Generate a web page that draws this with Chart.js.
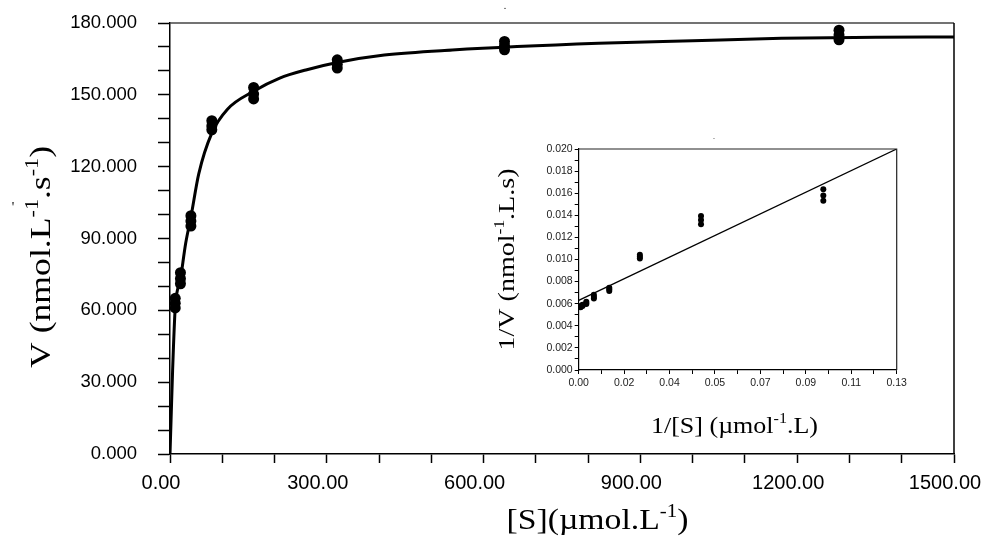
<!DOCTYPE html>
<html>
<head>
<meta charset="utf-8">
<script src="https://cdn.jsdelivr.net/npm/chart.js@4.4.1/dist/chart.umd.min.js"></script>
<style>
  html, body { margin: 0; padding: 0; background: #fff; }
  #wrap { position: relative; width: 983px; height: 539px; }
  #main { position: absolute; left: 0; top: 0; }
  #inset { position: absolute; left: 470px; top: 130px; }
</style>
</head>
<body>
<div id="wrap">
  <canvas id="main" width="983" height="539"></canvas>
  <canvas id="inset" width="450" height="320"></canvas>
</div>
<script>
// ---------- Main plot data (Michaelis-Menten) ----------
const sValues = [10, 20, 40, 80, 160, 320, 640, 1280];
const vRep1 = [65.0, 75.7, 99.5, 139.2, 153.1, 164.6, 172.3, 177.0];
const vRep2 = [63.0, 73.2, 97.3, 137.0, 150.3, 162.8, 170.5, 175.0];
const vRep3 = [61.0, 71.1, 95.2, 135.4, 148.3, 161.2, 168.8, 173.0];
// fitted curve
const fitS = [0, 2, 5, 10, 20, 30, 40, 55, 80, 110, 160, 210, 260, 320, 410, 540, 820, 1000, 1170, 1350, 1500];
const fitV = [0, 14, 35, 61, 73, 88, 99, 117, 134, 144, 151.5, 157, 160.4, 163.5, 166.6, 168.7, 171.5, 172.6, 173.6, 174.0, 174.2];
const mainXTickLabels = ['0.00', '300.00', '600.00', '900.00', '1200.00', '1500.00'];
const mainYTickLabels = ['0.000', '30.000', '60.000', '90.000', '120.000', '150.000', '180.000'];

// ---------- Inset data (Lineweaver-Burk) ----------
const invS = [0.00078, 0.00156, 0.0031, 0.0062, 0.0125, 0.025, 0.05, 0.1];
const invV1 = [0.00579, 0.00591, 0.00618, 0.00680, 0.00744, 0.01044, 0.01394, 0.01635];
const invV2 = [0.00573, 0.00585, 0.00607, 0.00663, 0.00730, 0.01026, 0.01357, 0.01580];
const invV3 = [0.00567, 0.00579, 0.00597, 0.00646, 0.00715, 0.01008, 0.01318, 0.01532];
const lineX = [0, 0.13];
const lineY = [0.0063, 0.0200];
const insetXTickLabels = ['0.00', '0.02', '0.04', '0.05', '0.07', '0.09', '0.11', '0.13'];
const insetYTickLabels = ['0.000', '0.002', '0.004', '0.006', '0.008', '0.010', '0.012', '0.014', '0.016', '0.018', '0.020'];

const SERIF = '"Liberation Serif", "Times New Roman", serif';
const SANS = '"Liberation Sans", Arial, sans-serif';

function pts(xs, ys) { return xs.map((x, i) => ({ x: x, y: ys[i] })); }

// draw text with superscripts; parts: [{t, sup}]
function drawRich(ctx, parts, opt) {
  const size = opt.size;
  const supSize = size * 0.62;
  ctx.save();
  let widths = parts.map(p => {
    ctx.font = (p.sup ? supSize : size) + 'px ' + SERIF;
    return ctx.measureText(p.t).width;
  });
  const W = widths.reduce((a, b) => a + b, 0);
  const sx = opt.target ? opt.target / W : 1;
  ctx.translate(opt.x, opt.y);
  if (opt.rotate) ctx.rotate(opt.rotate);
  ctx.scale(sx, 1);
  ctx.fillStyle = '#000';
  ctx.textBaseline = 'alphabetic';
  ctx.textAlign = 'left';
  let cx = -W / 2;
  parts.forEach((p, i) => {
    ctx.font = (p.sup ? supSize : size) + 'px ' + SERIF;
    ctx.fillText(p.t, cx, p.sup ? -size * 0.4 : 0);
    cx += widths[i];
  });
  ctx.restore();
}

const mainDecor = {
  id: 'mainDecor',
  afterDraw(chart) {
    const ctx = chart.ctx, a = chart.chartArea;
    ctx.save();
    ctx.lineWidth = 1.5;
    ctx.strokeStyle = '#444';
    ctx.beginPath(); ctx.moveTo(a.left, a.top); ctx.lineTo(a.right, a.top); ctx.stroke();
    ctx.strokeStyle = '#000';
    ctx.beginPath(); ctx.moveTo(a.right, a.top); ctx.lineTo(a.right, a.bottom); ctx.stroke();
    ctx.restore();
    drawRich(ctx, [{t: '[S](\u00b5mol.L'}, {t: '-1', sup: true}, {t: ')'}],
      {x: 597.5, y: 529, size: 30, target: 182});
    drawRich(ctx, [{t: 'V (nmol.L'}, {t: '-1', sup: true}, {t: '.s'}, {t: '-1', sup: true}, {t: ')'}],
      {x: 50, y: 257, size: 30, rotate: -Math.PI / 2, target: 222});
    ctx.save();
    ctx.fillStyle = '#000';
    ctx.font = '14px ' + SERIF;
    ctx.textAlign = 'center';
    ctx.fillText("'", 13, 212);
    ctx.font = '10px ' + SERIF;
    ctx.fillText('.', 505, 9);
    ctx.restore();
  }
};

new Chart(document.getElementById('main'), {
  type: 'scatter',
  data: {
    datasets: [
      { type: 'line', data: pts(fitS, fitV), borderColor: '#000', borderWidth: 3, pointRadius: 0,
        cubicInterpolationMode: 'monotone', fill: false, order: 2 },
      { data: pts(sValues, vRep1), backgroundColor: '#000', borderWidth: 0, pointRadius: 5.5, order: 1 },
      { data: pts(sValues, vRep2), backgroundColor: '#000', borderWidth: 0, pointRadius: 5.5, order: 1 },
      { data: pts(sValues, vRep3), backgroundColor: '#000', borderWidth: 0, pointRadius: 5.5, order: 1 }
    ]
  },
  options: {
    responsive: false, animation: false, devicePixelRatio: 1,
    layout: { padding: { top: 23, right: 29, left: 0, bottom: 0 } },
    plugins: { legend: { display: false }, tooltip: { enabled: false } },
    scales: {
      x: {
        type: 'linear', min: 0, max: 1500,
        afterBuildTicks: s => { s.ticks = Array.from({ length: 16 }, (_, i) => ({ value: i * 100 })); },
        afterFit: s => { s.height = 85; s.paddingLeft = 0; s.paddingRight = 0; },
        ticks: {
          autoSkip: false, maxRotation: 0, padding: 8, color: '#000', labelOffset: -9,
          font: { family: SANS, size: 20 },
          callback: (v, i) => (i % 3 === 0 ? mainXTickLabels[i / 3] : '')
        },
        grid: { drawOnChartArea: false, drawTicks: true, tickLength: 9, tickWidth: 1.5, color: '#000', tickColor: '#000' },
        border: { color: '#000', width: 1.5 }
      },
      y: {
        type: 'linear', min: 0, max: 180,
        afterBuildTicks: s => { s.ticks = Array.from({ length: 19 }, (_, i) => ({ value: i * 10 })); },
        afterFit: s => { s.width = 170; s.paddingTop = 0; s.paddingBottom = 0; },
        ticks: {
          autoSkip: false, padding: 21, color: '#000',
          font: { family: SANS, size: 18.5 },
          callback: (v, i) => (i % 3 === 0 ? mainYTickLabels[i / 3] : '')
        },
        grid: { drawOnChartArea: false, drawTicks: true, tickLength: 12, tickWidth: 1.5, color: '#000', tickColor: '#000' },
        border: { color: '#000', width: 1.5 }
      }
    }
  },
  plugins: [mainDecor]
});

const insetDecor = {
  id: 'insetDecor',
  afterDraw(chart) {
    const ctx = chart.ctx, a = chart.chartArea;
    ctx.save();
    ctx.lineWidth = 1.2;
    ctx.strokeStyle = '#222';
    ctx.beginPath(); ctx.moveTo(a.left, a.top); ctx.lineTo(a.right, a.top); ctx.lineTo(a.right, a.bottom); ctx.stroke();
    ctx.restore();
    drawRich(ctx, [{t: '1/[S] (\u00b5mol'}, {t: '-1', sup: true}, {t: '.L)'}],
      {x: 264.5, y: 303, size: 24, target: 167});
    drawRich(ctx, [{t: '1/V (nmol'}, {t: '-1', sup: true}, {t: '.L.s)'}],
      {x: 44, y: 129.5, size: 24, rotate: -Math.PI / 2, target: 182});
    ctx.save();
    ctx.fillStyle = '#000';
    ctx.font = '8px ' + SERIF;
    ctx.textAlign = 'center';
    ctx.fillText('.', 244, 9);
    ctx.restore();
  }
};

new Chart(document.getElementById('inset'), {
  type: 'scatter',
  data: {
    datasets: [
      { type: 'line', data: pts(lineX, lineY), borderColor: '#000', borderWidth: 1.3, pointRadius: 0, fill: false, order: 2 },
      { data: pts(invS, invV1), backgroundColor: '#000', borderWidth: 0, pointRadius: 3, order: 1 },
      { data: pts(invS, invV2), backgroundColor: '#000', borderWidth: 0, pointRadius: 3, order: 1 },
      { data: pts(invS, invV3), backgroundColor: '#000', borderWidth: 0, pointRadius: 3, order: 1 }
    ]
  },
  options: {
    responsive: false, animation: false, devicePixelRatio: 1,
    layout: { padding: { top: 19, right: 23.3, left: 0, bottom: 0 } },
    plugins: { legend: { display: false }, tooltip: { enabled: false } },
    scales: {
      x: {
        type: 'linear', min: 0, max: 0.13,
        afterBuildTicks: s => { s.ticks = Array.from({ length: 15 }, (_, i) => ({ value: i * 0.13 / 14 })); },
        afterFit: s => { s.height = 80; s.paddingLeft = 0; s.paddingRight = 0; },
        ticks: {
          autoSkip: false, maxRotation: 0, padding: 3, color: '#222',
          font: { family: SANS, size: 10.5 },
          callback: (v, i) => (i % 2 === 0 ? insetXTickLabels[i / 2] : '')
        },
        grid: { drawOnChartArea: false, drawTicks: true, tickLength: 4, tickWidth: 1, color: '#000', tickColor: '#000' },
        border: { color: '#000', width: 1.2 }
      },
      y: {
        type: 'linear', min: 0, max: 0.02,
        afterBuildTicks: s => { s.ticks = Array.from({ length: 21 }, (_, i) => ({ value: i * 0.001 })); },
        afterFit: s => { s.width = 108.7; s.paddingTop = 0; s.paddingBottom = 0; },
        ticks: {
          autoSkip: false, padding: 2, color: '#222',
          font: { family: SANS, size: 10.5 },
          callback: (v, i) => (i % 2 === 0 ? insetYTickLabels[i / 2] : '')
        },
        grid: { drawOnChartArea: false, drawTicks: true, tickLength: 4, tickWidth: 1, color: '#000', tickColor: '#000' },
        border: { color: '#000', width: 1.2 }
      }
    }
  },
  plugins: [insetDecor]
});
</script>
</body>
</html>
